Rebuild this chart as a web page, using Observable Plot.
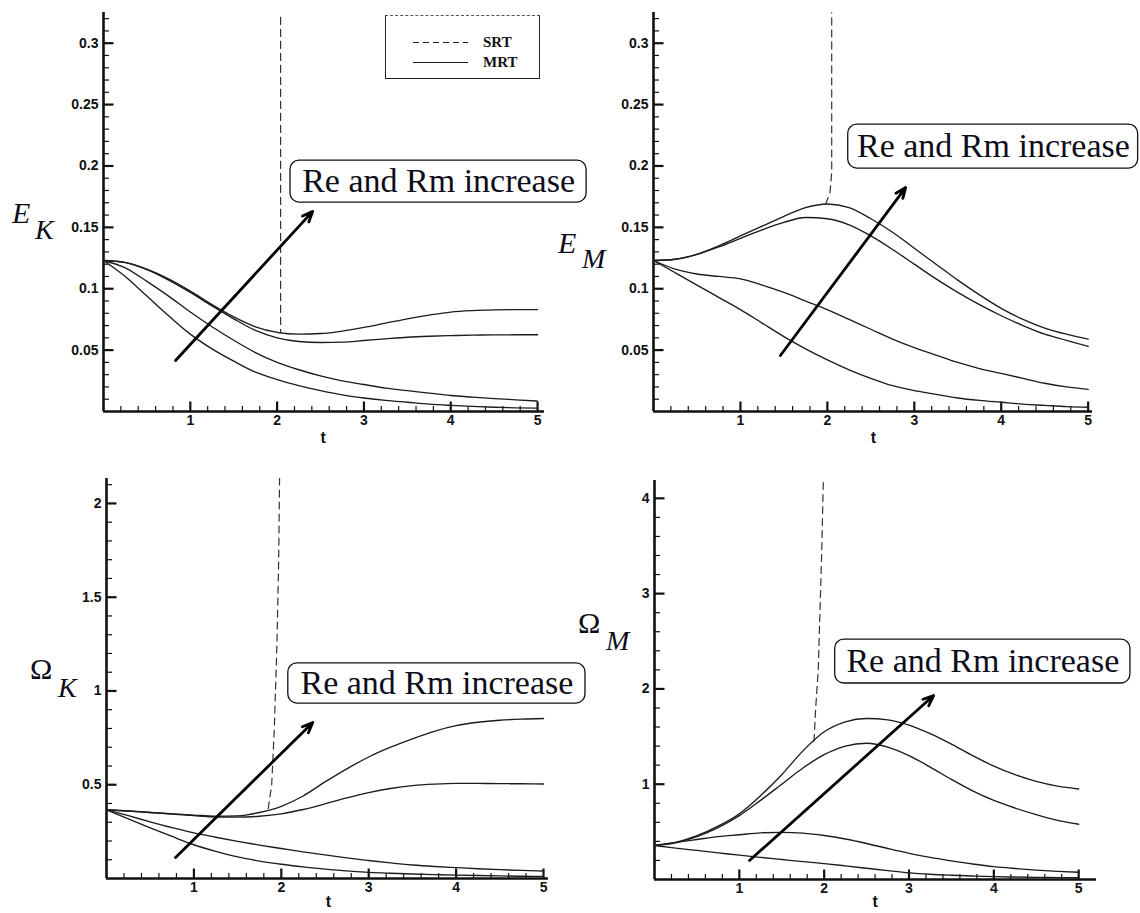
<!DOCTYPE html>
<html>
<head>
<meta charset="utf-8">
<script src="https://cdn.jsdelivr.net/npm/d3@7"></script>
<script src="https://cdn.jsdelivr.net/npm/@observablehq/plot@0.6"></script>
<style>
  body { margin: 0; background: #fff; }
  #fig { position: relative; width: 1140px; height: 913px; overflow: hidden; background: #fff; }
  #fig svg { position: absolute; left: 0; top: 0; }
  #legend { position: absolute; left: 385px; top: 15px; width: 155px; height: 64px;
            border: 1px solid #222; border-top: 1px dashed #555; background: #fff; box-sizing: border-box; }
  #legend .smp { position: absolute; left: 27px; width: 55px; height: 1.4px; }
  #legend .dash { background: repeating-linear-gradient(to right, #222 0 6px, transparent 6px 10px); }
  #legend .solid { background: #222; }
  #legend .lt { position: absolute; left: 97px; font: bold 15px "Liberation Serif", "Times New Roman", serif; color: #111; line-height: 15px; }
</style>
</head>
<body>
<div id="fig"></div>
<script>
// ---------------- data ----------------
const tGrid = [0,0.25,0.5,0.75,1,1.25,1.5,1.75,2,2.25,2.5,2.75,3,3.25,3.5,3.75,4,4.25,4.5,4.75,5];

// E_K (kinetic energy), four MRT runs (Re, Rm increasing from D to A)
const ekA = [0.123,0.1215,0.116,0.108,0.098,0.087,0.077,0.069,0.0645,0.063,0.0635,0.0655,0.0685,0.072,0.0755,0.0785,0.081,0.0822,0.0828,0.083,0.083];
const ekB = [0.123,0.1213,0.1155,0.107,0.097,0.086,0.0755,0.066,0.060,0.057,0.0562,0.0565,0.0578,0.0592,0.0605,0.0613,0.0618,0.0622,0.0624,0.0625,0.0625];
const ekC = [0.123,0.117,0.106,0.094,0.081,0.069,0.058,0.048,0.040,0.034,0.029,0.025,0.022,0.019,0.017,0.015,0.013,0.0117,0.0105,0.0095,0.0085];
const ekD = [0.123,0.110,0.094,0.078,0.063,0.051,0.041,0.032,0.026,0.021,0.017,0.0135,0.011,0.009,0.0075,0.006,0.005,0.0042,0.0035,0.003,0.0028];
const srtEkT = [2.0, 2.04, 2.04];
const srtEkV = [0.0645, 0.064, 0.325];

// E_M (magnetic energy)
const emA = [0.123,0.124,0.128,0.135,0.143,0.151,0.159,0.166,0.169,0.166,0.157,0.146,0.133,0.120,0.107,0.095,0.084,0.075,0.068,0.063,0.059];
const emB = [0.123,0.124,0.128,0.134,0.141,0.148,0.154,0.158,0.157,0.152,0.143,0.132,0.120,0.108,0.097,0.087,0.078,0.070,0.063,0.058,0.053];
const emC = [0.123,0.116,0.112,0.110,0.108,0.103,0.097,0.090,0.083,0.075,0.067,0.059,0.052,0.046,0.040,0.035,0.031,0.027,0.023,0.020,0.018];
const emD = [0.123,0.113,0.103,0.093,0.083,0.072,0.061,0.051,0.042,0.034,0.027,0.021,0.017,0.014,0.011,0.009,0.0075,0.006,0.005,0.004,0.0035];
const srtEmT = [1.98, 2.03, 2.05, 2.05];
const srtEmV = [0.169, 0.178, 0.195, 0.325];

// Omega_K (kinetic enstrophy)
const okA = [0.366,0.360,0.352,0.345,0.338,0.332,0.334,0.352,0.385,0.440,0.515,0.585,0.648,0.700,0.745,0.785,0.815,0.833,0.844,0.850,0.853];
const okB = [0.366,0.360,0.352,0.344,0.335,0.328,0.327,0.332,0.345,0.368,0.398,0.430,0.458,0.480,0.495,0.503,0.507,0.507,0.506,0.505,0.504];
const okC = [0.366,0.335,0.302,0.271,0.243,0.220,0.198,0.178,0.160,0.142,0.126,0.110,0.096,0.083,0.072,0.064,0.058,0.052,0.047,0.043,0.040];
const okD = [0.366,0.318,0.270,0.224,0.180,0.145,0.115,0.093,0.076,0.062,0.050,0.041,0.033,0.028,0.024,0.021,0.018,0.016,0.014,0.012,0.011];
const srtOkT = [1.85, 1.89, 1.92, 1.95, 1.97, 1.98];
const srtOkV = [0.372, 0.50, 0.80, 1.25, 1.70, 2.133];

// Omega_M (magnetic enstrophy)
const omA = [0.357,0.39,0.46,0.56,0.69,0.88,1.10,1.35,1.55,1.655,1.69,1.675,1.62,1.53,1.42,1.30,1.19,1.10,1.03,0.98,0.95];
const omB = [0.357,0.385,0.45,0.545,0.67,0.83,1.00,1.17,1.31,1.40,1.43,1.39,1.30,1.18,1.05,0.93,0.83,0.75,0.68,0.62,0.58];
const omC = [0.357,0.39,0.42,0.45,0.47,0.49,0.495,0.487,0.462,0.425,0.378,0.325,0.275,0.232,0.196,0.163,0.135,0.115,0.099,0.086,0.076];
const omD = [0.357,0.33,0.305,0.28,0.255,0.232,0.21,0.188,0.167,0.143,0.118,0.093,0.070,0.055,0.045,0.037,0.030,0.026,0.023,0.020,0.018];
const srtOmT = [1.88, 1.90, 1.93, 1.95, 1.97, 1.99];
const srtOmV = [1.45, 1.80, 2.20, 2.80, 3.40, 4.187];

// ticks & texts
const xTickLabels = [1, 2, 3, 4, 5];
const ekTicks = [0.05, 0.1, 0.15, 0.2, 0.25, 0.3];
const emTicks = [0.05, 0.1, 0.15, 0.2, 0.25, 0.3];
const okTicks = [0.5, 1, 1.5, 2];
const omTicks = [1, 2, 3, 4];
const xLabel = "t";
const annText = "Re and Rm increase";
const legendLabels = ["SRT", "MRT"];

// ---------------- layout (pixel frames) & annotations (data units) ----------------
const panels = [
  { left:103, right:544, top:12,  bottom:411, xMax:5.08, yMax:0.325, yTicks:ekTicks, yMinor:0.01,
    series:[ekA,ekB,ekC,ekD], srtT:srtEkT, srtV:srtEkV,
    box:{x1:2.154,x2:5.565,y1:0.1702,y2:0.2044}, txt:{x:3.86,y:0.1873},
    arrow:{x1:0.83,y1:0.0415,x2:2.41,y2:0.163}, tX:2.53, tDy:26 },
  { left:653, right:1092, top:12, bottom:411, xMax:5.05, yMax:0.325, yTicks:emTicks, yMinor:0.01,
    series:[emA,emB,emC,emD], srtT:srtEmT, srtV:srtEmV,
    box:{x1:2.24,x2:5.575,y1:0.1979,y2:0.2337}, txt:{x:3.91,y:0.2158},
    arrow:{x1:1.46,y1:0.0456,x2:2.90,y2:0.1824}, tX:2.53, tDy:26 },
  { left:106, right:548, top:478, bottom:878, xMax:5.057, yMax:2.133, yTicks:okTicks, yMinor:0.1,
    series:[okA,okB,okC,okD], srtT:srtOkT, srtV:srtOkV,
    box:{x1:2.08,x2:5.48,y1:0.933,y2:1.147}, txt:{x:3.78,y:1.04},
    arrow:{x1:0.79,y1:0.112,x2:2.36,y2:0.832}, tX:2.54, tDy:23 },
  { left:654, right:1096, top:480, bottom:879, xMax:5.21, yMax:4.187, yTicks:omTicks, yMinor:0.2,
    series:[omA,omB,omC,omD], srtT:srtOmT, srtV:srtOmV,
    box:{x1:2.13,x2:5.61,y1:2.057,y2:2.518}, txt:{x:3.87,y:2.288},
    arrow:{x1:1.12,y1:0.2,x2:3.29,y2:1.93}, tX:2.6, tDy:22 }
];

const W = 1140, H = 913;
const sans = "Liberation Sans, Arial, Helvetica, sans-serif";
const serif = "Liberation Serif, Times New Roman, serif";
const ink = "#111";

function near(a, b) { return Math.abs(a - b) < 1e-6; }

function panel(c) {
  const kx = (c.right - c.left) / c.xMax;
  const ky = (c.bottom - c.top) / c.yMax;
  const rows = c.series.flatMap((s, k) => tGrid.map((t, i) => ({t, v: s[i], k})));
  const srt = c.srtT.map((t, i) => ({t, v: c.srtV[i]}));
  const xMinor = d3.range(1, 26).map(i => i * 0.2).filter(v => v < 5.001 && !xTickLabels.some(m => near(m, v)));
  const yMinor = d3.range(1, Math.floor(c.yMax / c.yMinor + 1e-9) + 1).map(i => i * c.yMinor)
    .filter(v => v <= c.yMax && !c.yTicks.some(m => near(m, v)));
  const majLen = 10, minLen = 5.5;
  return Plot.plot({
    width: W, height: H,
    marginLeft: c.left, marginRight: W - c.right, marginTop: c.top, marginBottom: H - c.bottom,
    x: {domain: [0, c.xMax]},
    y: {domain: [0, c.yMax]},
    style: {background: "transparent", overflow: "visible"},
    marks: [
      Plot.axisX(xTickLabels, {tickSize: 0, tickPadding: 4, label: null, fontSize: 14, fontWeight: "bold", fontFamily: sans, fill: ink}),
      Plot.axisY(c.yTicks, {tickSize: 0, tickPadding: 5, label: null, tickFormat: d => String(d), fontSize: 14, fontWeight: "bold", fontFamily: sans, fill: ink}),
      // inward ticks
      Plot.link(xMinor, {x1: d => d, x2: d => d, y1: 0, y2: minLen / ky, stroke: ink, strokeWidth: 1.2}),
      Plot.link(xTickLabels, {x1: d => d, x2: d => d, y1: 0, y2: majLen / ky, stroke: ink, strokeWidth: 2.2}),
      Plot.link(yMinor, {y1: d => d, y2: d => d, x1: 0, x2: minLen / kx, stroke: ink, strokeWidth: 1.2}),
      Plot.link(c.yTicks, {y1: d => d, y2: d => d, x1: 0, x2: majLen / kx, stroke: ink, strokeWidth: 2.2}),
      Plot.ruleX([0], {stroke: ink, strokeWidth: 2.6}),
      Plot.ruleY([0], {stroke: ink, strokeWidth: 2.6}),
      // curves
      Plot.line(rows, {x: "t", y: "v", z: "k", stroke: "#1c1c1c", strokeWidth: 1.35, curve: "monotone-x"}),
      Plot.line(srt, {x: "t", y: "v", stroke: "#333", strokeWidth: 1.2, strokeDasharray: "7,5"}),
      // annotation
      Plot.arrow([c.arrow], {x1: "x1", y1: "y1", x2: "x2", y2: "y2", stroke: "#000", strokeWidth: 2.8, headLength: 6, headAngle: 45}),
      Plot.rect([c.box], {x1: "x1", x2: "x2", y1: "y1", y2: "y2", rx: 9, fill: "#fff", stroke: ink, strokeWidth: 1.3}),
      Plot.text([annText], {x: c.txt.x, y: c.txt.y, text: d => d, fontFamily: serif, fontSize: 34, fill: "#0d0d1a"}),
      Plot.text([xLabel], {x: c.tX, y: 0, dy: c.tDy, text: d => d, fontFamily: sans, fontWeight: "bold", fontSize: 16, fill: ink})
    ]
  });
}

const fig = document.getElementById("fig");
panels.forEach(c => fig.appendChild(panel(c)));

// y-axis quantity labels
const yLabels = [
  {main: "E", mx: 12,  my: 223, italic: true,  sub: "K", sx: 35,  sy: 239},
  {main: "E", mx: 558, my: 253, italic: true,  sub: "M", sx: 582, sy: 268},
  {main: "Ω", mx: 30,  my: 679, italic: false, sub: "K", sx: 58,  sy: 697},
  {main: "Ω", mx: 578, my: 633, italic: false, sub: "M", sx: 606, sy: 650}
];
const ov = d3.select(fig).append("svg").attr("width", W).attr("height", H)
  .style("position", "absolute").style("left", 0).style("top", 0).style("overflow", "visible");
yLabels.forEach(l => {
  const t = ov.append("text").attr("font-family", serif).attr("font-size", 30).attr("fill", "#0d0d1a");
  t.append("tspan").attr("x", l.mx).attr("y", l.my).attr("font-style", l.italic ? "italic" : "normal").text(l.main);
  t.append("tspan").attr("x", l.sx).attr("y", l.sy).attr("font-style", "italic").attr("font-size", 28).text(l.sub);
});

// legend
const lg = document.createElement("div");
lg.id = "legend";
lg.innerHTML =
  `<div class="smp dash" style="top:26px"></div><div class="lt" style="top:19px">${legendLabels[0]}</div>` +
  `<div class="smp solid" style="top:46px"></div><div class="lt" style="top:39px">${legendLabels[1]}</div>`;
fig.appendChild(lg);
</script>
</body>
</html>
